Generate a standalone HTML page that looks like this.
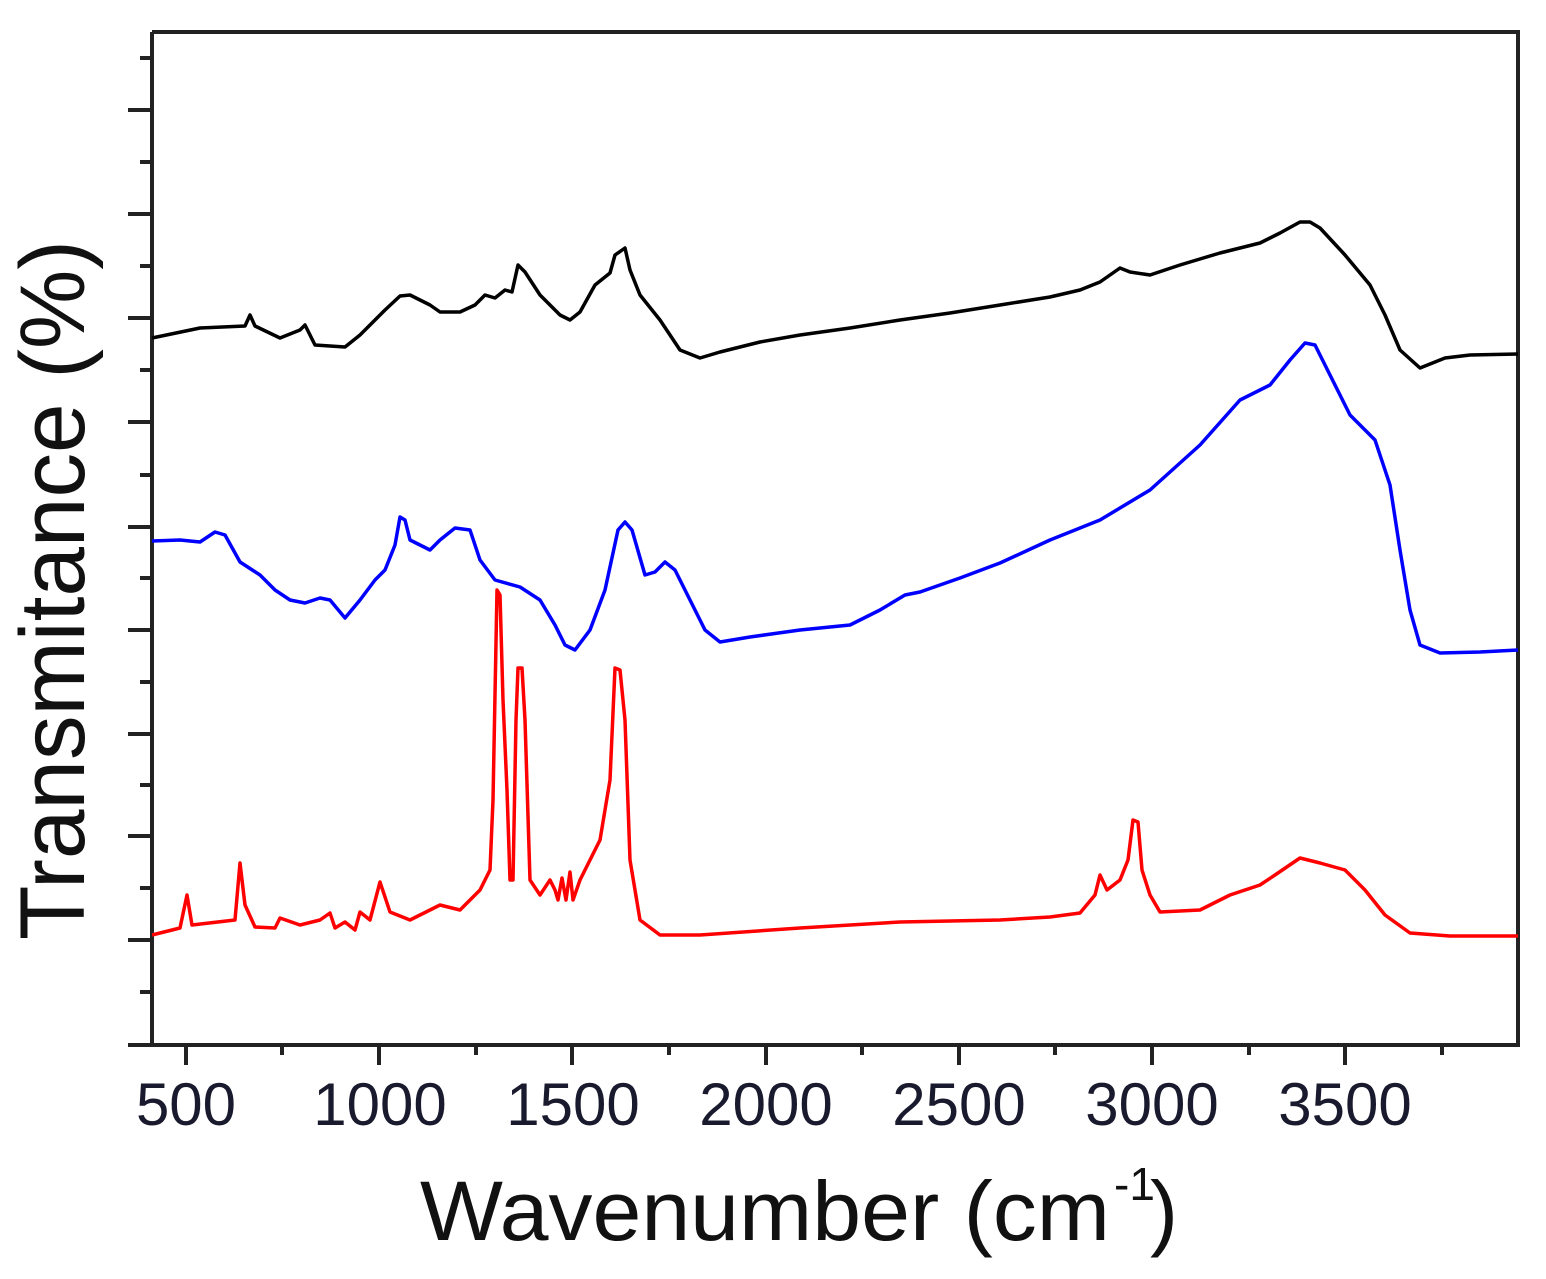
<!DOCTYPE html>
<html><head><meta charset="utf-8"><style>html,body{margin:0;padding:0;background:#fff}svg{display:block}</style></head>
<body>
<svg width="1546" height="1279" viewBox="0 0 1546 1279" xmlns="http://www.w3.org/2000/svg" font-family="Liberation Sans, Arial, sans-serif">
<rect width="1546" height="1279" fill="#fff"/>
<g stroke="#222" stroke-width="4" fill="none">
<path d="M152,32 H1518 V1045 H128 M152,32 V1045"/>
<path d="M128,110H152 M128,214H152 M128,318H152 M128,422H152 M128,527H152 M128,630H152 M128,734H152 M128,836H152 M128,940H152"/>
<path d="M140,58H152 M140,162H152 M140,266H152 M140,370H152 M140,475H152 M140,578H152 M140,682H152 M140,785H152 M140,888H152 M140,992H152"/>
<path d="M186,1045V1065 M379,1045V1065 M572,1045V1065 M766,1045V1065 M959,1045V1065 M1152,1045V1065 M1345,1045V1065"/>
<path d="M282,1045V1055 M476,1045V1055 M669,1045V1055 M862,1045V1055 M1055,1045V1055 M1249,1045V1055 M1442,1045V1055"/>
</g>
<g fill="#1a1a2e" font-size="60" text-anchor="middle">
<text x="186" y="1125">500</text>
<text x="380" y="1125">1000</text>
<text x="573" y="1125">1500</text>
<text x="766" y="1125">2000</text>
<text x="959" y="1125">2500</text>
<text x="1152" y="1125">3000</text>
<text x="1345" y="1125">3500</text>
</g>
<text x="420" y="1240" font-size="84" fill="#111" textLength="690" lengthAdjust="spacingAndGlyphs">Wavenumber (cm</text>
<text x="1114" y="1200" font-size="46" fill="#111">-1</text>
<text x="1150" y="1240" font-size="84" fill="#111">)</text>
<text transform="translate(84,940) rotate(-90)" font-size="92" fill="#111" textLength="700" lengthAdjust="spacingAndGlyphs">Transmitance (%)</text>
<g fill="none" stroke-width="3.5" stroke-linejoin="round">
<polyline stroke="#000" points="152,338 200,328 245,326 250,315 255,326 280,338 300,330 305,325 315,345 345,347 360,335 385,310 400,296 410,295 430,305 440,312 460,312 475,305 485,295 495,298 505,290 512,292 518,265 525,272 540,295 560,315 570,320 580,312 595,285 610,273 615,255 625,248 630,270 640,295 660,320 680,350 700,358 720,352 760,342 800,335 850,328 900,320 950,313 1000,305 1050,297 1080,290 1100,282 1120,268 1130,272 1150,275 1180,265 1220,253 1260,243 1280,233 1300,222 1310,222 1320,228 1345,255 1370,285 1385,315 1400,350 1420,368 1435,362 1445,358 1470,355 1518,354"/>
<polyline stroke="#0000ff" points="152,541 180,540 200,542 215,532 225,535 240,562 260,575 275,590 290,600 305,603 320,598 330,600 345,618 360,600 375,580 385,570 395,545 400,517 405,520 410,540 430,550 440,540 455,528 470,530 480,560 495,580 520,587 540,600 555,625 565,645 575,650 590,630 605,590 618,530 625,522 632,530 645,575 655,572 665,562 675,570 690,600 705,630 720,642 750,637 800,630 850,625 880,610 905,595 920,592 960,578 1000,563 1050,540 1100,520 1150,490 1200,445 1240,400 1270,385 1290,360 1305,343 1315,345 1330,375 1350,415 1375,440 1390,485 1400,550 1410,610 1420,645 1440,653 1480,652 1518,650"/>
<polyline stroke="#ff0000" points="152,935 180,928 187,895 192,925 235,920 240,863 245,905 255,927 275,928 280,918 300,925 320,920 330,913 335,928 345,922 355,930 360,912 370,920 380,882 390,912 410,920 440,905 460,910 480,890 490,870 493,800 497,590 500,595 503,700 507,790 510,880 513,880 516,720 518,668 522,668 525,720 530,880 540,895 550,880 555,890 558,900 562,878 566,900 570,872 573,900 580,880 590,860 600,840 610,780 615,668 620,670 625,720 630,860 640,920 660,935 700,935 800,928 900,922 1000,920 1050,917 1080,913 1095,895 1100,875 1107,890 1120,880 1128,860 1133,820 1138,822 1142,870 1150,895 1160,912 1200,910 1230,895 1260,885 1275,875 1300,858 1320,863 1345,870 1365,890 1385,915 1410,933 1450,936 1518,936"/>
</g>
</svg>
</body></html>
